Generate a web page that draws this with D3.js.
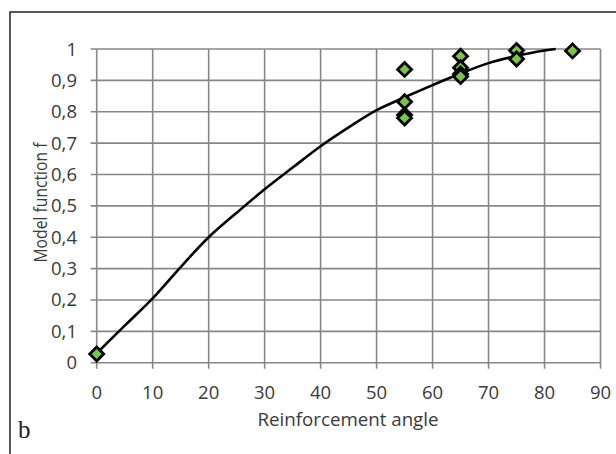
<!DOCTYPE html>
<html>
<head>
<meta charset="utf-8">
<script src="https://cdn.jsdelivr.net/npm/d3@7"></script>
<style>
  html, body { margin: 0; padding: 0; background: #fff; }
  svg { display: block; }
</style>
</head>
<body>
<div id="chart"></div>
<script>
// Measured points (angle, f)
const pointAngles = [0, 55, 55, 55, 55, 65, 65, 65, 65, 75, 75, 85];
const pointValues = [0.028, 0.935, 0.832, 0.79, 0.78, 0.977, 0.94, 0.92, 0.912, 0.995, 0.968, 0.994];

// Model curve
const curveAngles = [0, 5, 10, 15, 20, 25, 30, 35, 40, 45, 50, 55, 60, 65, 70, 75, 80, 82];
const curveValues = [0.03, 0.118, 0.205, 0.305, 0.4, 0.478, 0.553, 0.622, 0.69, 0.75, 0.805, 0.846, 0.885, 0.922, 0.955, 0.978, 0.995, 1.0];

const xTicks = [0, 10, 20, 30, 40, 50, 60, 70, 80, 90];
const yTicks = [0, 0.1, 0.2, 0.3, 0.4, 0.5, 0.6, 0.7, 0.8, 0.9, 1];

const width = 616, height = 454;
const plot = { left: 96.7, right: 600.5, top: 49, bottom: 362.7 };
const gridColor = '#878787';
const textColor = '#3a3a3a';
const font = '"Open Sans", sans-serif';

const svg = d3.select('#chart')
  .append('svg')
  .attr('width', width)
  .attr('height', height);

// Frame around the figure
svg.append('rect')
  .attr('x', 10)
  .attr('y', 12)
  .attr('width', 700)
  .attr('height', 500)
  .attr('fill', 'none')
  .attr('stroke', '#222')
  .attr('stroke-width', 1.5);

const x = d3.scaleLinear().domain([0, 90]).range([plot.left, plot.right]);
const y = d3.scaleLinear().domain([0, 1]).range([plot.bottom, plot.top]);

const fmtY = d => (d === 0 || d === 1) ? String(d) : d3.format('.1f')(d).replace('.', ',');

// Gridlines
svg.append('g')
  .selectAll('line')
  .data(yTicks)
  .join('line')
  .attr('x1', plot.left - 6)
  .attr('x2', plot.right)
  .attr('y1', d => y(d))
  .attr('y2', d => y(d))
  .attr('stroke', gridColor)
  .attr('stroke-width', 1.6);

svg.append('g')
  .selectAll('line')
  .data(xTicks)
  .join('line')
  .attr('x1', d => x(d))
  .attr('x2', d => x(d))
  .attr('y1', plot.top)
  .attr('y2', plot.bottom + 6)
  .attr('stroke', gridColor)
  .attr('stroke-width', 1.6);

// Tick labels
svg.append('g')
  .selectAll('text')
  .data(yTicks)
  .join('text')
  .attr('x', 77)
  .attr('y', d => y(d) + 6.5)
  .attr('text-anchor', 'end')
  .attr('font-family', font)
  .attr('font-size', 18.5)
  .attr('fill', textColor)
  .text(fmtY);

svg.append('g')
  .selectAll('text')
  .data(xTicks)
  .join('text')
  .attr('x', d => x(d))
  .attr('y', 399)
  .attr('text-anchor', 'middle')
  .attr('font-family', font)
  .attr('font-size', 18.5)
  .attr('fill', textColor)
  .text(d => d);

// Axis titles
svg.append('text')
  .attr('x', 348)
  .attr('y', 426)
  .attr('text-anchor', 'middle')
  .attr('font-family', font)
  .attr('font-size', 18.5)
  .attr('fill', textColor)
  .attr('textLength', 181)
  .attr('lengthAdjust', 'spacingAndGlyphs')
  .text('Reinforcement angle');

svg.append('text')
  .attr('transform', 'translate(46.5,202.5) rotate(-90)')
  .attr('text-anchor', 'middle')
  .attr('font-family', font)
  .attr('font-size', 18.5)
  .attr('fill', textColor)
  .attr('textLength', 120)
  .attr('lengthAdjust', 'spacingAndGlyphs')
  .text('Model function f');

// Panel letter
svg.append('text')
  .attr('x', 18)
  .attr('y', 438)
  .attr('font-family', '"Liberation Serif", serif')
  .attr('font-size', 25)
  .attr('fill', '#222')
  .text('b');

// Model curve
const line = d3.line()
  .x((d, i) => x(curveAngles[i]))
  .y(d => y(d))
  .curve(d3.curveCatmullRom.alpha(0.5));

svg.append('path')
  .datum(curveValues)
  .attr('d', line)
  .attr('fill', 'none')
  .attr('stroke', '#000')
  .attr('stroke-width', 2.6)
  .attr('stroke-linejoin', 'round');

// Diamond markers
const r = 7;
svg.append('g')
  .selectAll('path')
  .data(pointValues)
  .join('path')
  .attr('transform', (d, i) => `translate(${x(pointAngles[i])},${y(d)})`)
  .attr('d', `M0,${-r}L${r},0L0,${r}L${-r},0Z`)
  .attr('fill', '#7dc24b')
  .attr('stroke', '#000')
  .attr('stroke-width', 2.8)
  .attr('stroke-linejoin', 'miter');
</script>
</body>
</html>
